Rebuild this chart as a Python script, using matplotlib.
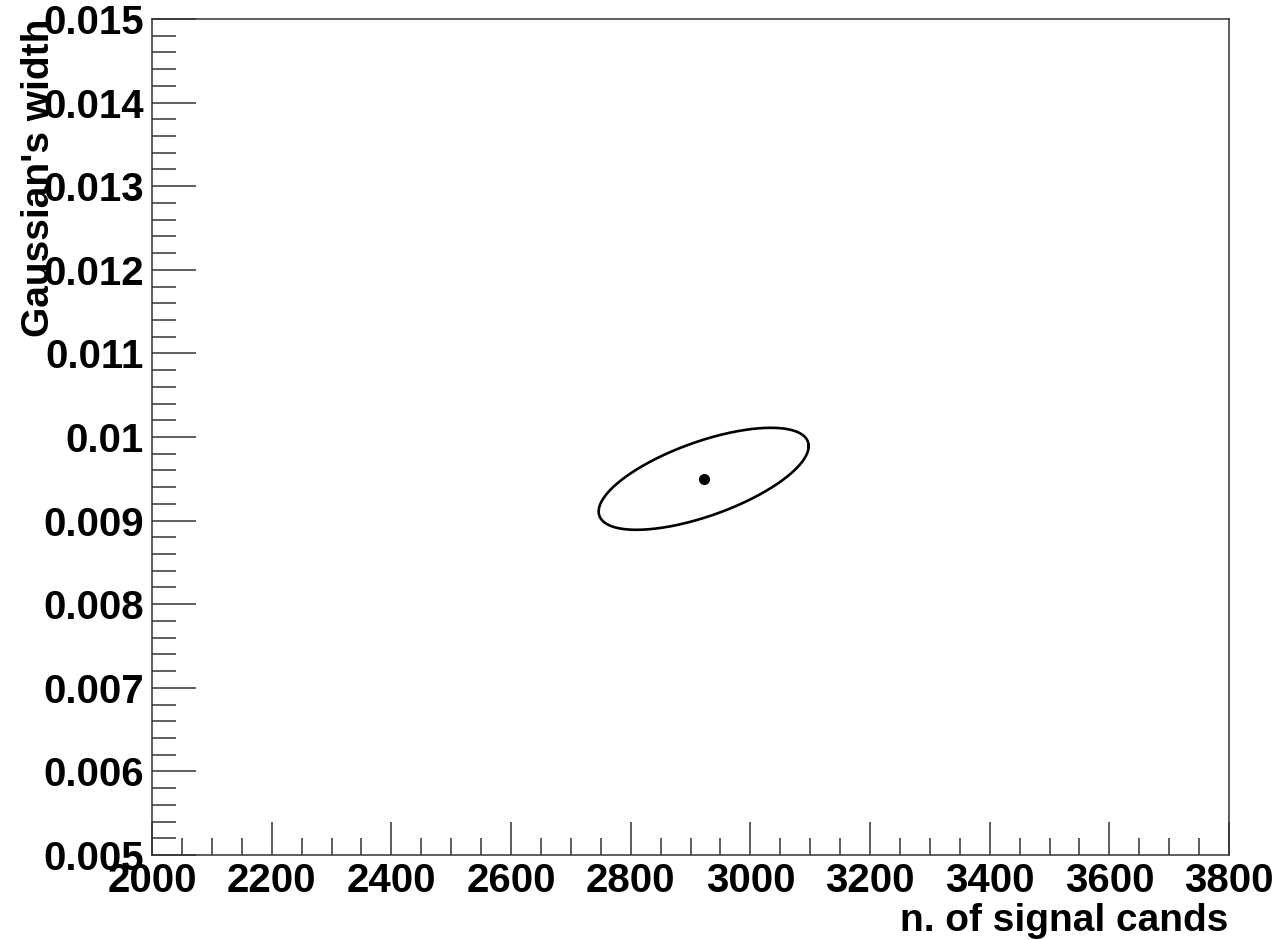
import numpy as np
import matplotlib
matplotlib.use("Agg")
import matplotlib.pyplot as plt
from matplotlib.ticker import MultipleLocator, FuncFormatter

# Fit result (best-fit point) and 1-sigma contour parameters
best_nsig = 2922.0
best_width = 0.00950
sigma_nsig = 175.5
sigma_width = 0.00061
correlation = 0.64

x_range = (2000, 3800)
y_range = (0.005, 0.015)
x_label = "n. of signal cands"
y_label = "Gaussian's width"

plt.rcParams['font.family'] = ['Liberation Sans', 'DejaVu Sans']
plt.rcParams['font.weight'] = 'bold'

fig = plt.figure(figsize=(12.78, 9.40), dpi=100)
W, H = 1278, 940
ax = fig.add_axes([152 / W, 1 - 855 / H, (1229 - 152) / W, (855 - 19) / H])

# contour
t = np.linspace(0, 2 * np.pi, 400)
cx = best_nsig + sigma_nsig * np.cos(t)
cy = best_width + sigma_width * (correlation * np.cos(t) + np.sqrt(1 - correlation ** 2) * np.sin(t))
ax.plot(cx, cy, color='black', lw=1.9)
ax.plot([best_nsig], [best_width], 'o', color='black', ms=7)

ax.set_xlim(*x_range)
ax.set_ylim(*y_range)

ax.xaxis.set_major_locator(MultipleLocator(200))
ax.xaxis.set_minor_locator(MultipleLocator(50))
ax.yaxis.set_major_locator(MultipleLocator(0.001))
ax.yaxis.set_minor_locator(MultipleLocator(0.0002))

def yfmt(v, pos):
    s = "%.3f" % v
    if s == "0.010":
        s = "0.01"
    return s

ax.yaxis.set_major_formatter(FuncFormatter(yfmt))
ax.xaxis.set_major_formatter(FuncFormatter(lambda v, p: "%d" % round(v)))

ax.tick_params(axis='both', which='both', direction='in', top=False, right=False,
               labelsize=29, width=1.1, color='#333333')
ax.tick_params(axis='x', which='major', length=24, pad=5)
ax.tick_params(axis='x', which='minor', length=12)
ax.tick_params(axis='y', which='major', length=32, pad=6)
ax.tick_params(axis='y', which='minor', length=17)
for lab in ax.get_xticklabels() + ax.get_yticklabels():
    lab.set_fontweight('bold')

for sp in ax.spines.values():
    sp.set_linewidth(1.1)
    sp.set_color('#333333')

fig.text(1228 / W, 1 - 931 / H, x_label, ha='right', va='baseline',
         fontsize=28, fontweight='bold')
fig.text(57 / W, 1 - 19 / H, y_label, ha='right', va='top', rotation=90,
         fontsize=28, fontweight='bold')

fig.savefig("out.png", dpi=100)
